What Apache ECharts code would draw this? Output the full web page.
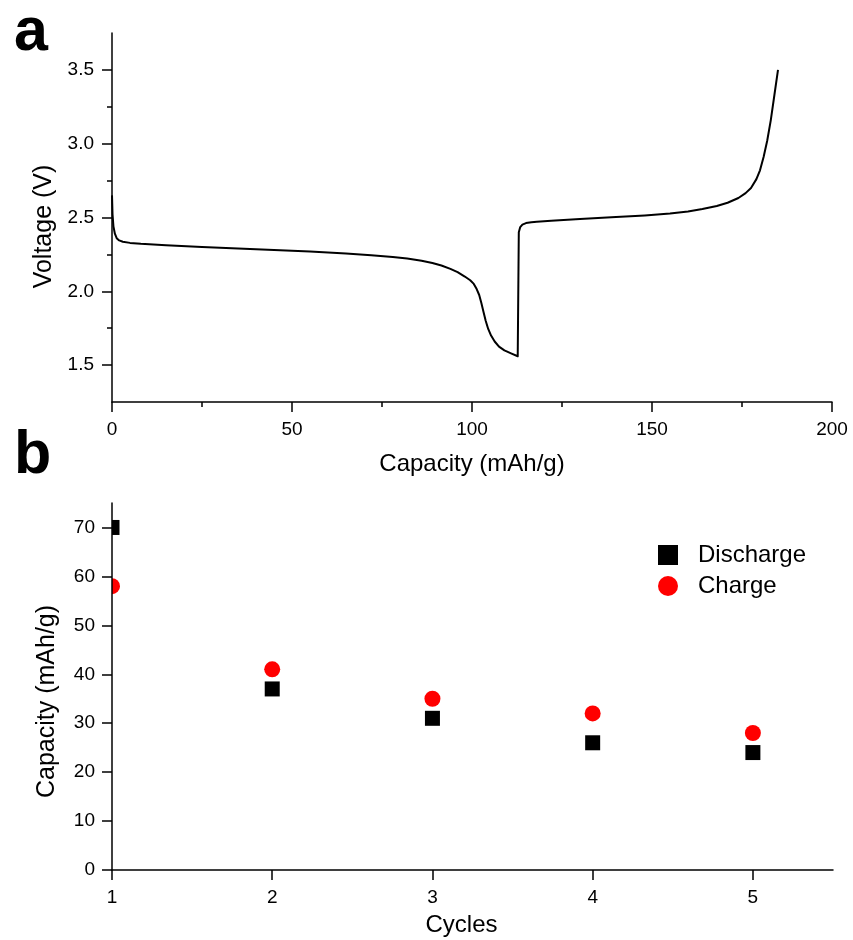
<!DOCTYPE html>
<html><head><meta charset="utf-8">
<script src="https://cdn.jsdelivr.net/npm/echarts@6/dist/echarts.min.js"></script>
<style>html,body{margin:0;padding:0;background:#fff}#c{width:853px;height:940px}</style>
</head><body><div id="c"></div>
<script>
// Panel a: voltage profile
const capacity = [0, 0.15, 0.4, 0.8, 1.3, 2, 3, 5, 8, 15, 25, 35, 45, 55, 65, 72, 78, 82, 86, 89, 91.5, 94, 96, 98, 99.5, 100.5, 101.3, 102, 102.6, 103.2, 103.8, 104.5, 105.3, 106.3, 107.5, 109, 111, 112.7, 113.0, 113.4, 114, 115, 116.5, 118, 122, 130, 140, 148, 155, 160, 164, 168, 171, 174, 176, 177.5, 179, 180, 181, 182, 183, 184, 185];
const voltage  = [2.65, 2.52, 2.44, 2.39, 2.36, 2.345, 2.336, 2.328, 2.322, 2.312, 2.300, 2.290, 2.280, 2.270, 2.256, 2.245, 2.233, 2.222, 2.207, 2.192, 2.175, 2.152, 2.130, 2.100, 2.075, 2.050, 2.015, 1.975, 1.920, 1.860, 1.800, 1.745, 1.700, 1.660, 1.625, 1.600, 1.578, 1.560, 2.400, 2.435, 2.452, 2.462, 2.468, 2.472, 2.478, 2.490, 2.503, 2.514, 2.527, 2.541, 2.557, 2.578, 2.600, 2.632, 2.665, 2.700, 2.760, 2.820, 2.910, 3.020, 3.160, 3.330, 3.500];
const voltageTickLabels = [1.5, 2.0, 2.5, 3.0, 3.5];
const voltageMinorTicks = [1.75, 2.25, 2.75, 3.25];
const capacityTickLabels = [0, 50, 100, 150, 200];
const capacityMinorTicks = [25, 75, 125, 175];
// Panel b: cycling
const cycles = [1, 2, 3, 4, 5];
const discharge = [70, 37, 31, 26, 24];
const charge = [58, 41, 35, 32, 28];
const cycleCapacityTicks = [0, 10, 20, 30, 40, 50, 60, 70];

const FONT = "'Liberation Sans', Arial, sans-serif";
const lab = {color: '#000', fontFamily: FONT, fontSize: 19};
const xName = {color: '#000', fontFamily: FONT, fontSize: 24};
const yName = {color: '#000', fontFamily: FONT, fontSize: 25};
const axLine = {lineStyle: {color: '#000', width: 1.5}};
const tickStyle = {color: '#000', width: 1.5};

function markerSeries(name, values, shape, size, color) {
  return {
    type: 'custom', name: name, xAxisIndex: 2, yAxisIndex: 2, clip: true, z: 2,
    itemStyle: {color: color},
    data: cycles.map((c, i) => [c, values[i]]),
    renderItem: function (params, api) {
      const p = api.coord([api.value(0), api.value(1)]);
      const h = size / 2;
      if (shape === 'rect') {
        return {type: 'rect', shape: {x: p[0] - h, y: p[1] - h, width: size, height: size}, style: {fill: color}};
      }
      return {type: 'circle', shape: {cx: p[0], cy: p[1], r: h}, style: {fill: color}};
    }
  };
}

const chart = echarts.init(document.getElementById('c'));
chart.setOption({
  animation: false,
  backgroundColor: '#fff',
  title: [
    {text: 'a', left: 9, top: -2, textStyle: {fontSize: 61, fontWeight: 'bold', fontFamily: FONT, color: '#000'}},
    {text: 'b', left: 9, top: 421, textStyle: {fontSize: 61, fontWeight: 'bold', fontFamily: FONT, color: '#000'}}
  ],
  grid: [
    {left: 112, right: 21, top: 33, height: 369},
    {left: 112, right: 20, top: 503, height: 367}
  ],
  legend: {
    orient: 'vertical', left: 653, top: 538, itemWidth: 20, itemHeight: 20, itemGap: 7,
    textStyle: {color: '#000', fontFamily: FONT, fontSize: 24, lineHeight: 20, padding: [0, 0, 0, 15]},
    data: [{name: 'Discharge', icon: 'rect'}, {name: 'Charge', icon: 'circle'}]
  },
  xAxis: [
    {type: 'value', gridIndex: 0, min: 0, max: 200, z: 10,
     name: 'Capacity (mAh/g)', nameLocation: 'middle', nameGap: 50, nameTextStyle: xName,
     axisLine: {show: true, onZero: false, ...axLine}, splitLine: {show: false},
     axisTick: {show: true, length: 10, customValues: capacityTickLabels, lineStyle: tickStyle},
     axisLabel: {...lab, margin: 18, customValues: capacityTickLabels}},
    {type: 'value', gridIndex: 0, min: 0, max: 200, position: 'bottom', z: 10,
     axisLine: {show: false}, splitLine: {show: false}, axisLabel: {show: false},
     axisTick: {show: true, length: 5, customValues: capacityMinorTicks, lineStyle: tickStyle}},
    {type: 'value', gridIndex: 1, min: 1, max: 5.5, z: 10,
     name: 'Cycles', nameLocation: 'middle', nameGap: 43, nameTextStyle: {...xName, padding: [0, 22, 0, 0]},
     axisLine: {show: true, onZero: false, ...axLine}, splitLine: {show: false},
     axisTick: {show: true, length: 10, customValues: cycles, lineStyle: tickStyle},
     axisLabel: {...lab, margin: 18, customValues: cycles}}
  ],
  yAxis: [
    {type: 'value', gridIndex: 0, min: 1.25, max: 3.75, position: 'left', z: 10,
     name: 'Voltage (V)', nameLocation: 'middle', nameGap: 53, nameTextStyle: {...yName, padding: [0, 18, 0, 0]},
     axisLine: {show: true, onZero: false, ...axLine}, splitLine: {show: false},
     axisTick: {show: true, length: 10, customValues: voltageTickLabels, lineStyle: tickStyle},
     axisLabel: {...lab, margin: 18, customValues: voltageTickLabels, formatter: v => Number(v).toFixed(1)}},
    {type: 'value', gridIndex: 0, min: 1.25, max: 3.75, position: 'left', offset: 0, z: 10,
     axisLine: {show: false}, splitLine: {show: false}, axisLabel: {show: false},
     axisTick: {show: true, inside: false, length: 5, customValues: voltageMinorTicks, lineStyle: tickStyle}},
    {type: 'value', gridIndex: 1, min: 0, max: 75, position: 'left', z: 10,
     name: 'Capacity (mAh/g)', nameLocation: 'middle', nameGap: 52, nameTextStyle: {...yName, padding: [0, 30, 0, 0]},
     axisLine: {show: true, onZero: false, ...axLine}, splitLine: {show: false},
     axisTick: {show: true, length: 10, customValues: cycleCapacityTicks, lineStyle: tickStyle},
     axisLabel: {...lab, margin: 17, customValues: cycleCapacityTicks}}
  ],
  series: [
    {type: 'line', xAxisIndex: 0, yAxisIndex: 0, showSymbol: false, smooth: false,
     lineStyle: {color: '#000', width: 2, join: 'round'}, itemStyle: {color: '#000'},
     data: capacity.map((c, i) => [c, voltage[i]])},
    markerSeries('Discharge', discharge, 'rect', 15, '#000000'),
    markerSeries('Charge', charge, 'circle', 16, '#ff0000')
  ]
});
</script></body></html>
